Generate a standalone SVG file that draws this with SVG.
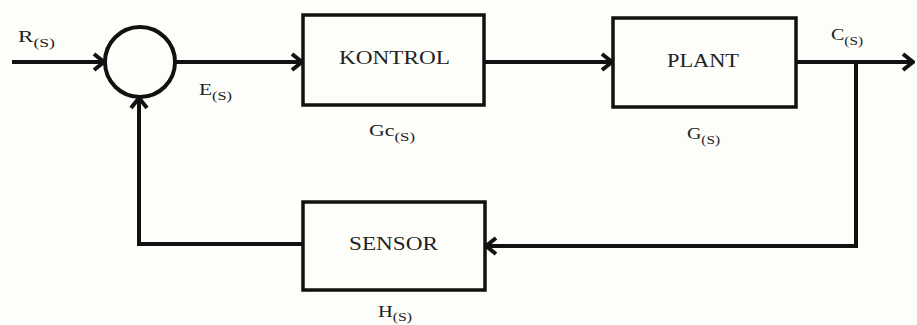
<svg xmlns="http://www.w3.org/2000/svg" width="917" height="325" viewBox="0 0 917 325">
<defs>
<style>
.box{fill:none;stroke:#111;stroke-width:3.5}
.ln{fill:none;stroke:#111;stroke-width:4}
.t{font-family:"Liberation Serif","Times New Roman",serif;fill:#222;font-size:18px}
.l{font-family:"Liberation Serif","Times New Roman",serif;fill:#222;font-size:17px}
.s{font-size:13px}
</style>
<marker id="ar" viewBox="-12 -10 14 20" markerUnits="userSpaceOnUse" markerWidth="14" markerHeight="20" refX="0" refY="0" orient="auto">
<path d="M-10,-8 L0,0 L-10,8" fill="none" stroke="#111" stroke-width="4" stroke-linejoin="miter"/>
</marker>
</defs>
<rect width="917" height="325" fill="#fdfdf9"/>
<g id="connectors">
<line class="ln" x1="12" y1="62" x2="104" y2="62" marker-end="url(#ar)"/>
<line class="ln" x1="175" y1="62" x2="302" y2="62" marker-end="url(#ar)"/>
<line class="ln" x1="484" y1="62" x2="612" y2="62" marker-end="url(#ar)"/>
<line class="ln" x1="796" y1="62" x2="913" y2="62" marker-end="url(#ar)"/>
<polyline class="ln" points="856,62 856,246 486,246" marker-end="url(#ar)"/>
<polyline class="ln" points="303,244 139,244 139,98" marker-end="url(#ar)"/>
</g>
<g id="sum">
<circle cx="140" cy="62" r="35" fill="none" stroke="#111" stroke-width="4"/>
</g>
<g id="kontrol">
<rect class="box" x="303" y="15" width="181" height="90"/>
<text class="t" x="339" y="64" textLength="111" lengthAdjust="spacingAndGlyphs">KONTROL</text>
<text class="l" x="369" y="136" textLength="46" lengthAdjust="spacingAndGlyphs">Gc<tspan class="s" dy="5">(S)</tspan></text>
</g>
<g id="plant">
<rect class="box" x="613" y="18" width="183" height="89"/>
<text class="t" x="667" y="67" textLength="72" lengthAdjust="spacingAndGlyphs">PLANT</text>
<text class="l" x="687" y="139" textLength="33" lengthAdjust="spacingAndGlyphs">G<tspan class="s" dy="5">(S)</tspan></text>
</g>
<g id="sensor">
<rect class="box" x="303" y="202" width="182" height="88"/>
<text class="t" x="349" y="250" textLength="89" lengthAdjust="spacingAndGlyphs">SENSOR</text>
<text class="l" x="378" y="317" textLength="34" lengthAdjust="spacingAndGlyphs">H<tspan class="s" dy="4">(S)</tspan></text>
</g>
<g id="labels">
<text class="l" x="18" y="42" textLength="37" lengthAdjust="spacingAndGlyphs">R<tspan class="s" dy="5">(S)</tspan></text>
<text class="l" x="199" y="95" textLength="33" lengthAdjust="spacingAndGlyphs">E<tspan class="s" dy="5">(S)</tspan></text>
<text class="l" x="831" y="40" textLength="32" lengthAdjust="spacingAndGlyphs">C<tspan class="s" dy="5">(S)</tspan></text>
</g>
</svg>
